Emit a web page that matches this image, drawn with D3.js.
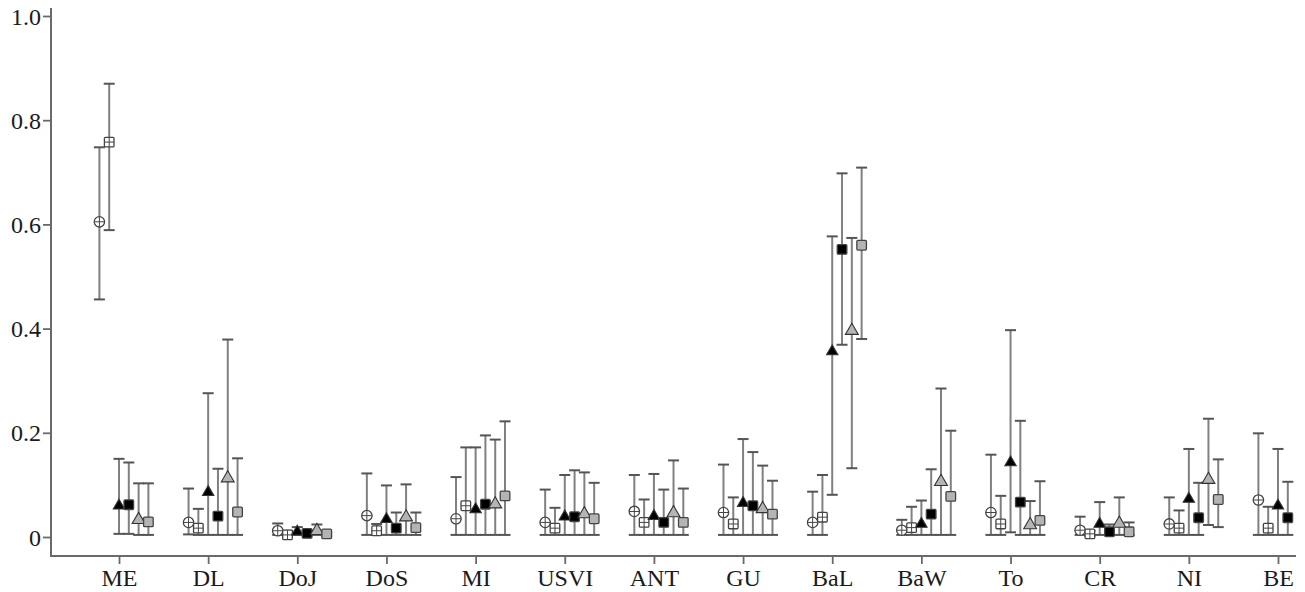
<!DOCTYPE html>
<html>
<head>
<meta charset="utf-8">
<script src="https://cdn.jsdelivr.net/npm/d3@7"></script>
<style>
  html, body { margin: 0; padding: 0; background: #fff; }
  svg { display: block; }
  .tick text { font-family: "Liberation Serif", "Times New Roman", serif; font-size: 24px; fill: #1a1a1a; }
</style>
</head>
<body>
<svg id="chart" width="1305" height="592"></svg>
<script>
const categories = ["ME","DL","DoJ","DoS","MI","USVI","ANT","GU","BaL","BaW","To","CR","NI","BE"];
const yTicks = [0, 0.2, 0.4, 0.6, 0.8, 1.0];
const yTickLabels = ["0", "0.2", "0.4", "0.6", "0.8", "1.0"];

// Series 1: open circle with cross
const s1Mean = [0.605, 0.028, 0.012, 0.041, 0.035, 0.028, 0.049, 0.047, 0.028, 0.013, 0.047, 0.013, 0.025, 0.071];
const s1Low  = [0.456, 0.005, 0.004, 0.004, 0.004, 0.004, 0.004, 0.004, 0.004, 0.004, 0.004, 0.004, 0.004, 0.004];
const s1High = [0.748, 0.093, 0.026, 0.122, 0.115, 0.091, 0.119, 0.139, 0.087, 0.033, 0.158, 0.039, 0.076, 0.199];

// Series 2: open square with cross
const s2Mean = [0.758, 0.017, 0.004, 0.012, 0.060, 0.017, 0.028, 0.025, 0.038, 0.018, 0.025, 0.006, 0.017, 0.017];
const s2Low  = [0.589, 0.004, 0.002, 0.004, 0.004, 0.004, 0.004, 0.004, 0.004, 0.004, 0.004, 0.002, 0.004, 0.004];
const s2High = [0.870, 0.054, 0.012, 0.025, 0.172, 0.056, 0.072, 0.076, 0.119, 0.058, 0.079, 0.012, 0.051, 0.058];

// Series 3: black triangle
const s3Mean = [0.060, 0.086, 0.010, 0.034, 0.053, 0.039, 0.040, 0.065, 0.356, 0.025, 0.143, 0.025, 0.073, 0.060];
const s3Low  = [0.006, 0.004, 0.004, 0.004, 0.004, 0.004, 0.004, 0.004, 0.081, 0.004, 0.009, 0.004, 0.004, 0.004];
const s3High = [0.150, 0.276, 0.019, 0.099, 0.172, 0.119, 0.121, 0.188, 0.577, 0.070, 0.397, 0.067, 0.169, 0.169];

// Series 4: black square
const s4Mean = [0.062, 0.040, 0.007, 0.017, 0.063, 0.039, 0.028, 0.060, 0.552, 0.044, 0.067, 0.010, 0.037, 0.037];
const s4Low  = [0.006, 0.004, 0.003, 0.004, 0.004, 0.004, 0.004, 0.004, 0.369, 0.004, 0.004, 0.004, 0.004, 0.004];
const s4High = [0.143, 0.131, 0.012, 0.047, 0.195, 0.128, 0.091, 0.163, 0.698, 0.130, 0.223, 0.024, 0.104, 0.106];

// Series 5: grey triangle
const s5Mean = [0.033, 0.113, 0.012, 0.038, 0.063, 0.044, 0.046, 0.054, 0.396, 0.106, 0.023, 0.026, 0.110, null];
const s5Low  = [0.004, 0.004, 0.004, 0.004, 0.004, 0.004, 0.004, 0.004, 0.132, 0.004, 0.004, 0.004, 0.023, null];
const s5High = [0.103, 0.379, 0.024, 0.101, 0.187, 0.124, 0.147, 0.137, 0.574, 0.285, 0.069, 0.076, 0.227, null];

// Series 6: grey square
const s6Mean = [0.029, 0.048, 0.006, 0.018, 0.079, 0.035, 0.028, 0.044, 0.560, 0.078, 0.032, 0.010, 0.072, null];
const s6Low  = [0.004, 0.004, 0.002, 0.004, 0.004, 0.004, 0.004, 0.004, 0.380, 0.004, 0.004, 0.004, 0.019, null];
const s6High = [0.103, 0.151, 0.008, 0.047, 0.222, 0.104, 0.093, 0.108, 0.709, 0.204, 0.107, 0.028, 0.149, null];

const series = [
  { mean: s1Mean, low: s1Low, high: s1High, shape: "circle",   fill: "#ffffff", cross: true },
  { mean: s2Mean, low: s2Low, high: s2High, shape: "square",   fill: "#ffffff", cross: true },
  { mean: s3Mean, low: s3Low, high: s3High, shape: "triangle", fill: "#000000", cross: false },
  { mean: s4Mean, low: s4Low, high: s4High, shape: "square",   fill: "#000000", cross: false },
  { mean: s5Mean, low: s5Low, high: s5High, shape: "triangle", fill: "#b4b4b4", cross: false },
  { mean: s6Mean, low: s6Low, high: s6High, shape: "square",   fill: "#b4b4b4", cross: false }
];

const svg = d3.select("#chart");
const x = d3.scalePoint().domain(categories).range([119, 1278]);
const y = d3.scaleLinear().domain([0, 1]).range([537, 16]);
const step = 9.8;
const axisColor = "#6a6a6a";

// Axes
const yAxis = d3.axisLeft(y).tickValues(yTicks)
  .tickFormat((d, i) => yTickLabels[i]).tickSize(8).tickPadding(2).tickSizeOuter(0);
const gy = svg.append("g").attr("transform", "translate(51,0)").call(yAxis);
gy.select(".domain").remove();
gy.selectAll(".tick line").attr("stroke", axisColor).attr("stroke-width", 1.8);
gy.selectAll(".tick text").attr("dy", "0.34em");

const xAxis = d3.axisBottom(x).tickSize(8).tickPadding(5).tickSizeOuter(0);
const gx = svg.append("g").attr("transform", "translate(0,556)").call(xAxis);
gx.select(".domain").remove();
gx.selectAll(".tick line").attr("stroke", axisColor).attr("stroke-width", 1.8);
gx.selectAll(".tick text").attr("dy", "0.72em");

svg.append("line").attr("x1", 51).attr("x2", 51).attr("y1", 8).attr("y2", 556)
  .attr("stroke", axisColor).attr("stroke-width", 2);
svg.append("line").attr("x1", 50).attr("x2", 1296).attr("y1", 556).attr("y2", 556)
  .attr("stroke", axisColor).attr("stroke-width", 2);

// Error bars
const capHalf = 5.5;
series.forEach((s, si) => {
  const g = svg.append("g");
  categories.forEach((c, ci) => {
    if (s.mean[ci] == null) return;
    const cx = x(c) + (si - 2) * step;
    g.append("line").attr("x1", cx).attr("x2", cx)
      .attr("y1", y(s.low[ci])).attr("y2", y(s.high[ci]))
      .attr("stroke", "#808080").attr("stroke-width", 2);
    [s.low[ci], s.high[ci]].forEach(v => {
      g.append("line").attr("x1", cx - capHalf).attr("x2", cx + capHalf)
        .attr("y1", y(v)).attr("y2", y(v))
        .attr("stroke", "#555").attr("stroke-width", 2);
    });
  });
});

// Markers
series.forEach((s, si) => {
  const g = svg.append("g");
  categories.forEach((c, ci) => {
    const v = s.mean[ci];
    if (v == null) return;
    const cx = x(c) + (si - 2) * step;
    const cy = y(v);
    if (s.shape === "circle") {
      g.append("circle").attr("cx", cx).attr("cy", cy).attr("r", 5.2)
        .attr("fill", s.fill).attr("stroke", "#444").attr("stroke-width", 1.3);
      g.append("line").attr("x1", cx - 5).attr("x2", cx + 5).attr("y1", cy).attr("y2", cy)
        .attr("stroke", "#444").attr("stroke-width", 1);
      g.append("line").attr("x1", cx).attr("x2", cx).attr("y1", cy - 5).attr("y2", cy + 5)
        .attr("stroke", "#444").attr("stroke-width", 1);
    } else if (s.shape === "square") {
      const h = 4.8;
      g.append("rect").attr("x", cx - h).attr("y", cy - h).attr("width", 2 * h).attr("height", 2 * h)
        .attr("rx", 1).attr("fill", s.fill).attr("stroke", "#444").attr("stroke-width", 1.3);
      if (s.cross) {
        g.append("line").attr("x1", cx - h).attr("x2", cx + h).attr("y1", cy).attr("y2", cy)
          .attr("stroke", "#444").attr("stroke-width", 1);
        g.append("line").attr("x1", cx).attr("x2", cx).attr("y1", cy - h).attr("y2", cy + h)
          .attr("stroke", "#444").attr("stroke-width", 1);
      }
    } else {
      const size = s.fill === "#000000" ? 56 : 72;
      g.append("path").attr("d", d3.symbol(d3.symbolTriangle, size)())
        .attr("transform", `translate(${cx},${cy})`)
        .attr("fill", s.fill).attr("stroke", "#333").attr("stroke-width", 1.1);
    }
  });
});
</script>
</body>
</html>
